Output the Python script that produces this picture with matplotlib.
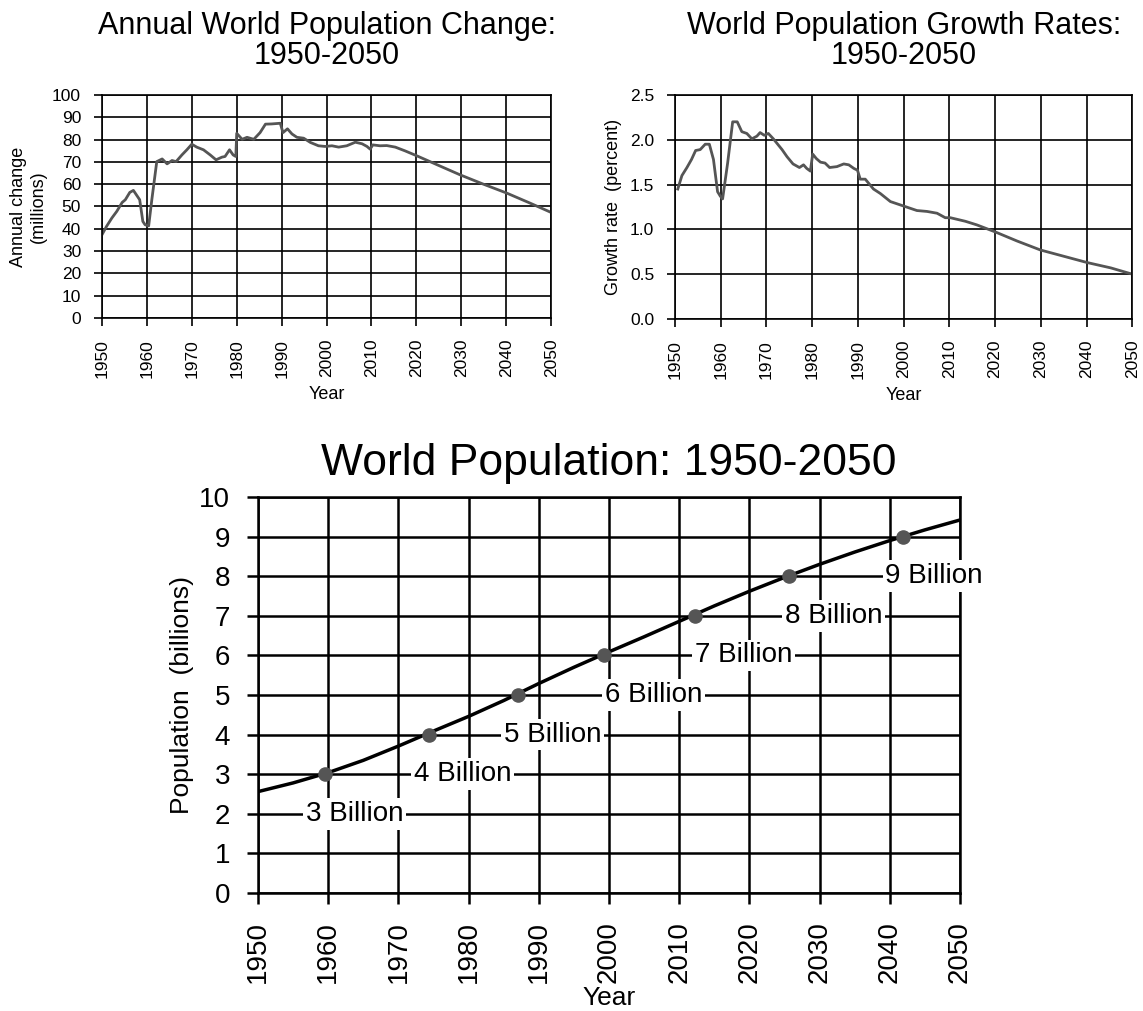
import matplotlib
matplotlib.use("Agg")
import matplotlib.pyplot as plt

plt.rcParams['font.family'] = ['Liberation Sans', 'DejaVu Sans']

# Annual world population change (millions)
change_years = [1950, 1951, 1952.2, 1953.3, 1954.5, 1955.2, 1956.2, 1957, 1958.4, 1959.1,
                1959.6, 1960.4, 1961.1, 1962.2, 1963.4, 1964.5, 1965.6, 1966.5, 1967.8, 1968.9,
                1970, 1971.1, 1972.6, 1974.1, 1975.4, 1976.7, 1977.4, 1978.4, 1979.2, 1979.8,
                1980, 1981.2, 1982.3, 1983.8, 1985.2, 1986.4, 1987.8, 1989.7, 1990.3, 1991.3,
                1992.3, 1993.4, 1994.9, 1996.4, 1998.2, 1999.7, 2001.2, 2002.7, 2004.5, 2006.4,
                2007.9, 2009, 2009.7, 2010.3, 2011.9, 2013.4, 2015.3, 2017.5, 2020.1, 2024.6,
                2029.7, 2034.9, 2040.1, 2045.3, 2050]
change_vals = [37.3, 41, 44.8, 47.8, 51.8, 53, 56.3, 57.2, 53, 43.3,
               41.8, 41.3, 53, 70.1, 71.3, 69.1, 70.6, 70.1, 73.1, 75.4,
               77.9, 76.6, 75.4, 73.1, 70.9, 72.1, 72.4, 75.4, 73.1, 72.4,
               82.8, 80.1, 81, 80.1, 83.1, 86.9, 87, 87.3, 83.1, 84.8,
               82.5, 81, 80.6, 78.7, 77.2, 76.9, 77.2, 76.6, 77.2, 78.8,
               78.1, 76.9, 75.7, 77.6, 77.2, 77.3, 76.6, 74.9, 72.7, 68.7,
               64.2, 60, 56, 51.5, 47.3]

# World population growth rate (percent)
rate_years = [1950.6, 1951.5, 1952.6, 1953.6, 1954.5, 1955.5, 1956.6, 1957.5, 1958.4, 1959.3,
              1959.9, 1960.4, 1961.5, 1962.6, 1963.6, 1964.6, 1965.7, 1966.8, 1967.9, 1968.6,
              1969.5, 1970.4, 1971.5, 1973.4, 1974.5, 1975.8, 1977.2, 1978.1, 1978.8, 1979.6,
              1980.1, 1980.9, 1981.8, 1982.8, 1983.8, 1985.4, 1986.9, 1988, 1989.1, 1989.9,
              1990.5, 1991.6, 1993.4, 1994.9, 1997.1, 2000, 2002.9, 2005.1, 2007.3, 2009.1,
              2010.2, 2013.5, 2016, 2020.1, 2024.8, 2029.9, 2035, 2040.1, 2045.3, 2050]
rate_vals = [1.45, 1.60, 1.69, 1.78, 1.88, 1.89, 1.95, 1.95, 1.78, 1.42,
             1.37, 1.34, 1.74, 2.20, 2.20, 2.09, 2.07, 2.01, 2.04, 2.08,
             2.05, 2.07, 2.01, 1.89, 1.81, 1.73, 1.69, 1.72, 1.68, 1.65,
             1.84, 1.79, 1.75, 1.74, 1.69, 1.70, 1.73, 1.72, 1.68, 1.66,
             1.56, 1.56, 1.45, 1.40, 1.31, 1.26, 1.21, 1.20, 1.18, 1.13,
             1.13, 1.09, 1.05, 0.97, 0.87, 0.77, 0.70, 0.63, 0.57, 0.50]

# World population (billions)
pop_years = list(range(1950, 2051, 5))
pop_vals = [2.56, 2.78, 3.04, 3.35, 3.71, 4.09, 4.46, 4.86, 5.29, 5.70, 6.09,
            6.47, 6.86, 7.25, 7.62, 7.97, 8.30, 8.61, 8.90, 9.17, 9.42]

# Billion milestones
mile_years = [1959.5, 1974.4, 1987.0, 1999.3, 2012.2, 2025.6, 2041.9]
mile_vals = [3, 4, 5, 6, 7, 8, 9]
mile_labels = ["3 Billion", "4 Billion", "5 Billion", "6 Billion",
               "7 Billion", "8 Billion", "9 Billion"]
label_x = [1963.8, 1979.2, 1992.0, 2006.4, 2019.2, 2032.0, 2046.3]

decades = list(range(1950, 2051, 10))

fig = plt.figure(figsize=(11.43, 10.11), dpi=100)

def style_axes(ax, tick_size, lw, pad):
    ax.set_xlim(1950, 2050)
    ax.set_xticks(decades)
    ax.set_xticklabels([str(d) for d in decades], rotation=90)
    ax.grid(True, color='black', linewidth=lw)
    ax.set_axisbelow(True)
    for s in ax.spines.values():
        s.set_linewidth(lw)
        s.set_color('black')
    ax.tick_params(direction='out', length=6, width=lw, labelsize=tick_size,
                   colors='black', pad=pad)

# top left
ax1 = fig.add_axes([0.0892, 0.6855, 0.393, 0.2206])
ax1.plot(change_years, change_vals, color='#555555', linewidth=2)
style_axes(ax1, 12.5, 1.2, 9)
ax1.set_ylim(0, 100)
ax1.set_yticks(range(0, 101, 10))
ax1.set_title("Annual World Population Change:\n1950-2050", fontsize=22, pad=22,
              linespacing=1.0)
ax1.set_ylabel("Annual change\n(millions)", fontsize=13, labelpad=4)
ax1.set_xlabel("Year", fontsize=13, labelpad=6)

# top right
ax2 = fig.add_axes([0.5906, 0.6845, 0.4, 0.2216])
ax2.plot(rate_years, rate_vals, color='#555555', linewidth=2)
style_axes(ax2, 12.5, 1.2, 9)
ax2.set_ylim(0, 2.5)
ax2.set_yticks([0, 0.5, 1.0, 1.5, 2.0, 2.5])
ax2.set_yticklabels(["0.0", "0.5", "1.0", "1.5", "2.0", "2.5"])
ax2.set_title("World Population Growth Rates:\n1950-2050", fontsize=22, pad=22,
              linespacing=1.0)
ax2.set_ylabel("Growth rate  (percent)", fontsize=13, labelpad=6)
ax2.set_xlabel("Year", fontsize=13, labelpad=6)

# bottom
ax3 = fig.add_axes([0.2257, 0.1167, 0.6142, 0.3917])
style_axes(ax3, 20, 1.8, 12)
ax3.set_ylim(0, 10)
ax3.set_yticks(range(0, 11))
ax3.tick_params(length=8)
ax3.plot(pop_years, pop_vals, color='black', linewidth=2.5, zorder=3)
ax3.scatter(mile_years, mile_vals, s=90, color='#555555', zorder=4)
for lx, v, lab in zip(label_x, mile_vals, mile_labels):
    ax3.text(lx, v - 1, lab, fontsize=20, ha='center', va='center', zorder=5,
             bbox=dict(facecolor='white', edgecolor='none', pad=2))
ax3.set_title("World Population: 1950-2050", fontsize=32, pad=16)
ax3.set_ylabel("Population  (billions)", fontsize=19, labelpad=4)
ax3.set_xlabel("Year", fontsize=19, labelpad=2)

fig.savefig("out.png", dpi=100)
